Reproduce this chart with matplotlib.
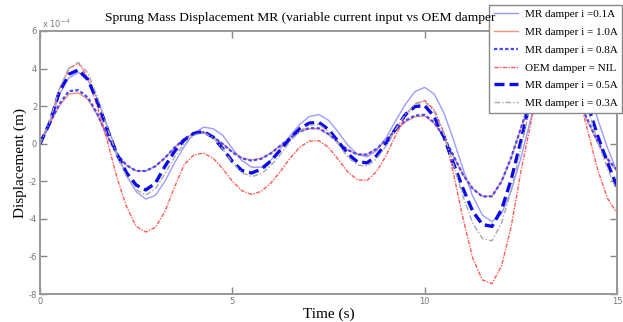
import matplotlib
matplotlib.use("Agg")
import matplotlib.pyplot as plt
from matplotlib.ticker import FuncFormatter
import numpy as np

plt.rcParams["axes.unicode_minus"] = False

# time axis (s), sampled every 0.25 s
time_s = np.arange(0, 15.01, 0.25)

# displacement values, in units of 1e-4 m
mr_01 = [0, 1.05, 2.6, 3.5, 3.8, 3.4, 2.35, 0.95, -0.45, -1.7, -2.55, -2.95, -2.75, -2.0, -1.0, -0.15,
         0.55, 0.88, 0.8, 0.45, -0.25, -0.9, -1.25, -1.25, -0.88, -0.27, 0.42, 1.02, 1.45, 1.55,
         1.25, 0.63, -0.07, -0.56, -0.7, -0.37, 0.33, 1.24, 2.1, 2.78, 3.0, 2.64, 1.64, 0.2,
         -1.36, -2.8, -3.8, -4.15, -3.72, -2.5, -0.77, 1.25, 3.2, 4.6, 5.45, 5.4, 4.7, 3.0, 1.3, -0.2, -1.5]
mr_10 = [0, 1.05, 2.0, 2.65, 2.7, 2.35, 1.5, 0.4, -0.55, -1.15, -1.45, -1.45, -1.2, -0.75, -0.2, 0.25,
         0.55, 0.62, 0.38, 0.0, -0.43, -0.76, -0.87, -0.78, -0.5, -0.1, 0.3, 0.64, 0.8, 0.8,
         0.5, 0.08, -0.33, -0.57, -0.58, -0.28, 0.18, 0.7, 1.17, 1.44, 1.48, 1.08, 0.33, -0.66,
         -1.66, -2.4, -2.8, -2.8, -2.0, -0.75, 0.8, 2.3, 3.45, 4.05, 4.0, 3.4, 2.25, 1.15, 0.05, -0.85, -1.45]
mr_08 = [0, 1.1, 2.1, 2.8, 2.85, 2.45, 1.55, 0.4, -0.55, -1.15, -1.45, -1.45, -1.2, -0.75, -0.2, 0.25,
         0.55, 0.6, 0.37, -0.02, -0.45, -0.78, -0.9, -0.8, -0.52, -0.1, 0.31, 0.66, 0.83, 0.82,
         0.51, 0.08, -0.33, -0.57, -0.58, -0.27, 0.21, 0.74, 1.23, 1.5, 1.54, 1.13, 0.36, -0.65,
         -1.66, -2.4, -2.81, -2.8, -2.0, -0.73, 0.82, 2.37, 3.53, 4.15, 4.1, 3.5, 2.3, 1.2, 0.1, -0.8, -1.4]
oem = [0, 1.15, 2.9, 4.0, 4.3, 3.5, 1.9, 0.15, -1.8, -3.35, -4.4, -4.7, -4.45, -3.6, -2.3, -1.1,
       -0.6, -0.5, -0.77, -1.33, -2.0, -2.5, -2.7, -2.54, -2.1, -1.48, -0.77, -0.19, 0.14, 0.16,
       -0.2, -0.83, -1.5, -1.92, -1.96, -1.48, -0.62, 0.47, 1.44, 2.13, 2.3, 1.8, 0.6, -1.6,
       -4.0, -6.1, -7.25, -7.45, -6.5, -4.4, -1.5, 1.0, 3.5, 5.2, 5.8, 4.8, 2.6, 0.6, -1.4, -2.9, -3.7]
mr_05 = [0, 1.1, 2.75, 3.7, 3.93, 3.4, 2.2, 0.75, -0.55, -1.55, -2.2, -2.46, -2.1, -1.2, -0.4, 0.2,
         0.55, 0.65, 0.35, -0.26, -0.94, -1.43, -1.56, -1.36, -0.92, -0.33, 0.28, 0.8, 1.1, 1.13,
         0.76, 0.12, -0.54, -0.96, -1.02, -0.64, 0.03, 0.81, 1.56, 1.98, 2.03, 1.44, 0.37, -1.06,
         -2.4, -3.6, -4.3, -4.4, -3.5, -1.9, 0.13, 2.3, 4.1, 5.3, 5.6, 5.0, 3.6, 2.0, 0.4, -1.0, -2.29]
mr_03 = [0, 1.15, 2.9, 4.0, 4.33, 3.75, 2.45, 0.85, -0.6, -1.75, -2.45, -2.73, -2.4, -1.6, -0.7, 0.0,
         0.45, 0.6, 0.32, -0.28, -1.0, -1.54, -1.75, -1.6, -1.17, -0.57, 0.11, 0.67, 0.99, 1.03,
         0.64, -0.02, -0.7, -1.14, -1.2, -0.8, -0.11, 0.78, 1.56, 2.11, 2.25, 1.7, 0.5, -1.14,
         -2.82, -4.23, -5.05, -5.17, -4.2, -2.5, -0.24, 2.1, 4.1, 5.4, 5.7, 5.0, 3.5, 1.8, 0.1, -1.3, -2.55]

labels = ["MR damper i =0.1A", "MR damper i = 1.0A", "MR damper i = 0.8A",
          "OEM damper = NIL", "MR damper i = 0.5A", "MR damper i = 0.3A"]

serif = "Liberation Serif"

fig = plt.figure(figsize=(6.23, 3.22), dpi=100)
ax = fig.add_axes([40 / 623, 28 / 322, 577 / 623, 263 / 322])

ax.plot(time_s, np.array(mr_01) * 1e-4, color="#9c9cff", lw=1.0, label=labels[0])
ax.plot(time_s, np.array(mr_10) * 1e-4, color="#f4907c", lw=1.0, label=labels[1])
ax.plot(time_s, np.array(mr_08) * 1e-4, color="#4848ff", lw=1.6, ls=(0, (1.5, 1)), label=labels[2])
ax.plot(time_s, np.array(oem) * 1e-4, color="#ff5a5a", lw=1.0, ls=(0, (3, 1, 1, 1)), label=labels[3])
ax.plot(time_s, np.array(mr_05) * 1e-4, color="#0a0aee", lw=2.4, ls=(0, (3, 1.5)), label=labels[4])
ax.plot(time_s, np.array(mr_03) * 1e-4, color="#a8a8a8", lw=1.0, ls=(0, (4, 1.5, 1, 1.5)), label=labels[5])

ax.set_xlim(0, 15)
ax.set_ylim(-8e-4, 6e-4)
ax.set_xticks([0, 5, 10, 15])
ax.set_yticks(np.arange(-8, 7, 2) * 1e-4)
ax.yaxis.set_major_formatter(FuncFormatter(lambda v, p: "%d" % round(v * 1e4)))
ax.text(0.004, 1.005, "x 10$^{-4}$", transform=ax.transAxes, fontsize=6, color="#777777",
        ha="left", va="bottom")
ax.tick_params(direction="in", length=5, width=1, colors="#888888", labelsize=6,
               labelcolor="#777777", top=True, right=True, pad=2)
for sp in ax.spines.values():
    sp.set_color("#999999")
    sp.set_linewidth(1.4)

ax.set_xlabel("Time (s)", family=serif, fontsize=11, labelpad=1)
ax.set_ylabel("Displacement (m)", family=serif, fontsize=11, labelpad=1)
fig.text(105 / 623, 1 - 18 / 322, "Sprung Mass Displacement MR (variable current input vs OEM damper",
         family=serif, fontsize=9.7, ha="left", va="center")

leg = ax.legend(loc="upper right", bbox_to_anchor=(622 / 623, 1 - 5 / 322),
                bbox_transform=fig.transFigure, prop={"family": serif, "size": 8},
                fancybox=False, framealpha=1, edgecolor="#888888", handlelength=2.2,
                borderpad=0.4, labelspacing=0.72, handletextpad=0.6, borderaxespad=0)
leg.get_frame().set_linewidth(1.0)
leg.set_zorder(10)

fig.savefig("out.png", dpi=100)
